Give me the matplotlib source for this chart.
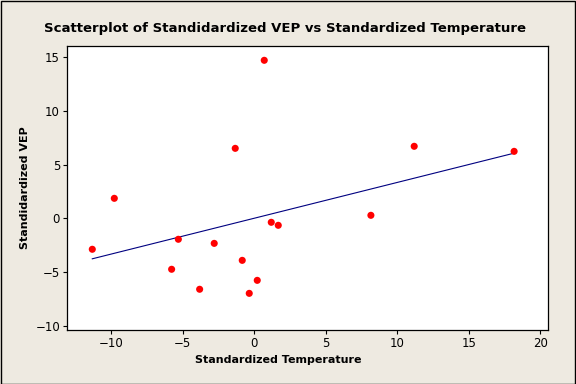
import numpy as np
import matplotlib
matplotlib.use('Agg')
import matplotlib.pyplot as plt
from matplotlib.patches import Rectangle

# values
temp = [-11.33, -9.79, -5.78, -5.31, -3.82, -2.80, -1.33, -0.84,
        -0.35, 0.21, 0.70, 1.19, 1.68, 8.16, 11.19, 18.18]
vep = [-2.88, 1.86, -4.74, -1.95, -6.60, -2.33, 6.51, -3.91,
       -6.98, -5.77, 14.70, -0.37, -0.65, 0.28, 6.70, 6.23]

xticks = [-10, -5, 0, 5, 10, 15, 20]
yticks = [-10, -5, 0, 5, 10, 15]

bg = '#EEEAE1'
plt.rcParams['font.family'] = ['DejaVu Sans']

fig = plt.figure(figsize=(5.76, 3.84), dpi=100, facecolor=bg)
fig.patches.append(Rectangle((0.001, 0.001), 0.997, 0.997, transform=fig.transFigure,
                             fill=False, edgecolor='black', linewidth=1.0))

ax = fig.add_axes([0.1163, 0.1406, 0.8351, 0.7396])
ax.set_facecolor('white')

# fitted line
slope, icpt = np.polyfit(temp, vep, 1)
xs = np.array([min(temp), max(temp)])
ax.plot(xs, slope * xs + icpt, color='#000080', linewidth=0.8, zorder=2)

ax.scatter(temp, vep, s=26, color='#FF0000', edgecolors='none', zorder=3)

ax.set_xlim(-13.1, 20.55)
ax.set_ylim(-10.39, 16.03)
ax.set_xticks(xticks)
ax.set_yticks(yticks)
ax.tick_params(direction='out', length=3, width=0.8, labelsize=8.5, pad=2,
               top=False, right=False)
for s in ax.spines.values():
    s.set_linewidth(0.9)

ax.set_xlabel('Standardized Temperature', fontsize=8, fontweight='bold')
ax.set_ylabel('Standidardized VEP', fontsize=8, fontweight='bold')
ax.xaxis.set_label_coords(0.44, -0.087)
ax.yaxis.set_label_coords(-0.077, 0.5)
fig.text(0.495, 0.925, 'Scatterplot of Standidardized VEP vs Standardized Temperature',
         ha='center', va='center', fontsize=9.5, fontweight='bold')

fig.savefig('out.png', dpi=100, facecolor=bg)
